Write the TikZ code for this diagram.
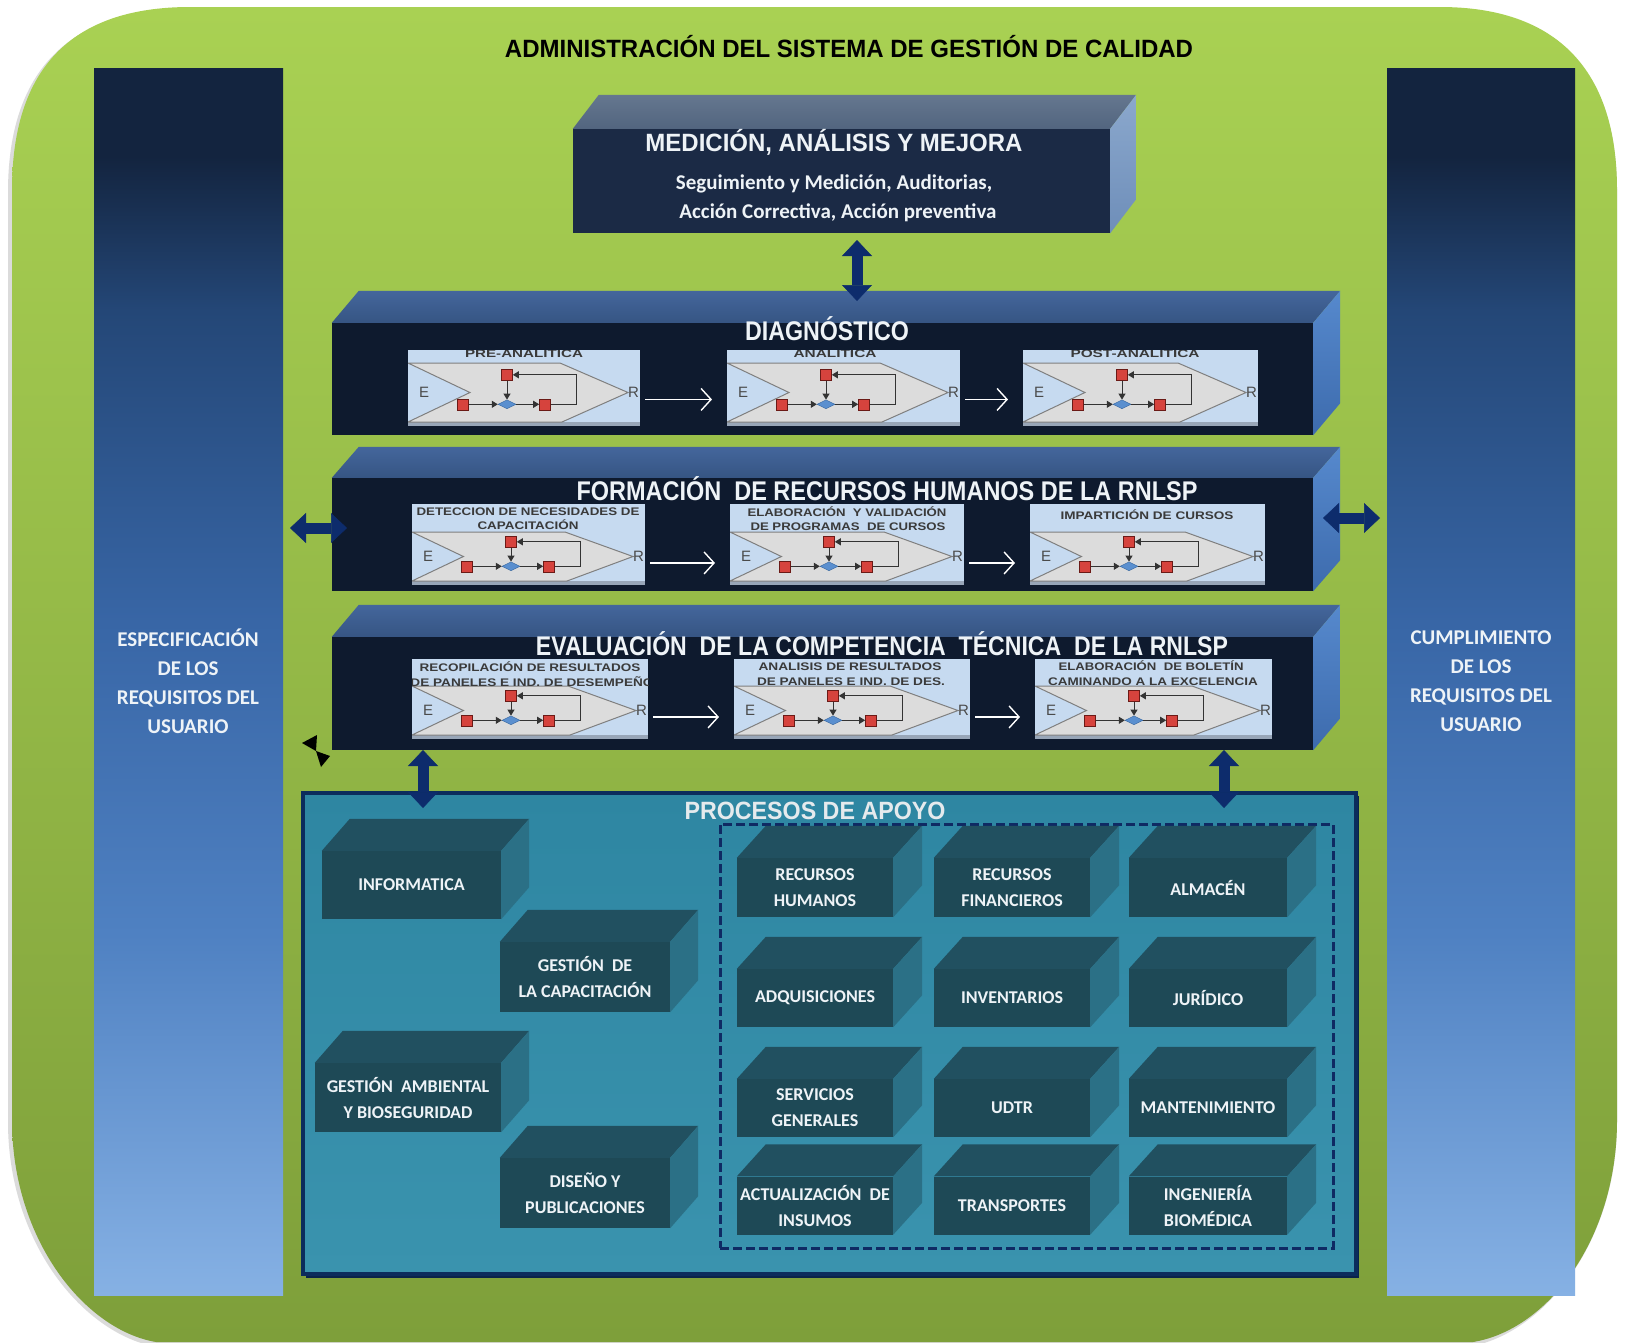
\documentclass[tikz,border=0pt]{standalone}
\usepackage{fontspec}
\usepackage{graphicx}
\setmainfont{Carlito}
\newfontfamily\arialf{Liberation Sans}
\usetikzlibrary{calc,arrows.meta,shapes.geometric}

\definecolor{grnT}{HTML}{A9D153}
\definecolor{grnM}{HTML}{98C148}
\definecolor{grnB}{HTML}{7E9F3A}
\definecolor{colA}{HTML}{13243F}
\definecolor{colB}{HTML}{244777}
\definecolor{colC}{HTML}{3866A6}
\definecolor{colD}{HTML}{4F81C2}
\definecolor{colE}{HTML}{86B1E4}
\definecolor{txtw}{HTML}{EEF3F7}
\definecolor{medF}{HTML}{1B2A45}
\definecolor{medT1}{HTML}{65778F}
\definecolor{medT2}{HTML}{52657F}
\definecolor{medS1}{HTML}{8BA8CD}
\definecolor{medS2}{HTML}{6E8EB9}
\definecolor{barF}{HTML}{0E1A2E}
\definecolor{barT1}{HTML}{44669C}
\definecolor{barT2}{HTML}{365583}
\definecolor{barS1}{HTML}{5689CD}
\definecolor{barS2}{HTML}{3D6BAD}
\definecolor{arrowblue}{HTML}{0D2C6C}
\definecolor{apoyoT}{HTML}{2E86A2}
\definecolor{apoyoB}{HTML}{3A93AE}
\definecolor{apoyoD}{HTML}{0B2C5C}
\definecolor{dashnavy}{HTML}{0F2A63}
\definecolor{cubeF}{HTML}{1E4956}
\definecolor{cubeT}{HTML}{215060}
\definecolor{cubeS}{HTML}{2B7086}
\definecolor{panelfill}{HTML}{C6DAF0}
\definecolor{panelshadow}{HTML}{98A6B8}
\definecolor{shapefill}{HTML}{DCDCDC}
\definecolor{shapedraw}{HTML}{7F7F7F}
\definecolor{sqfill}{HTML}{D6433D}
\definecolor{sqdraw}{HTML}{6B1A16}
\definecolor{diafill}{HTML}{5A8FCF}
\definecolor{diadraw}{HTML}{2F5F99}
\definecolor{flowgray}{HTML}{333333}
\definecolor{labgray}{HTML}{3A3A3A}
\definecolor{elabgray}{HTML}{4A4A4A}

\pgfdeclareverticalshading{colshade}{100bp}{color(0bp)=(colE); color(25bp)=(colE); color(39.7bp)=(colD); color(52.4bp)=(colC); color(65.1bp)=(colB); color(71.4bp)=(colA); color(75bp)=(colA); color(100bp)=(colA)}

\newcommand\fitw[2]{\resizebox{#1}{\height}{#2}}

\tikzset{
  medfront/.style={rectangle, inner sep=0pt, fill=medF},
  barfront/.style={rectangle, inner sep=0pt, fill=barF},
  cubefront/.style={rectangle, inner sep=0pt, fill=cubeF, align=center, text=txtw, font=\bfseries\fontsize{18}{26}\selectfont},
  panelbox/.style={rectangle, inner sep=0pt, fill=panelfill},
  sq/.style={rectangle, minimum size=11pt, inner sep=0pt, fill=sqfill, draw=sqdraw, line width=0.6pt},
  dia/.style={diamond, minimum width=18pt, minimum height=9pt, inner sep=0pt, fill=diafill, draw=diadraw, line width=0.4pt},
  flowl/.style={draw=flowgray, line width=1pt, -{Triangle[length=6pt,width=7pt]}},
  plab/.style={anchor=base, inner sep=0pt, text=labgray, font=\arialf\bfseries\fontsize{11}{11}\selectfont},
  elab/.style={inner sep=1pt, text=elabgray, font=\arialf\fontsize{15}{15}\selectfont},
  whitearr/.style={draw=white, line width=1.4pt, -{Straight Barb[length=10pt,width=22pt]}, shorten <=5pt, shorten >=15pt},
  bigarr/.style={draw=arrowblue, line width=11pt, {Triangle[length=16pt,width=30pt,line width=0.5pt]}-{Triangle[length=16pt,width=30pt,line width=0.5pt]}},
  bartitle/.style={anchor=base, inner sep=0pt, text=txtw},
  coltext/.style={align=center, inner sep=0pt, text=txtw, font=\bfseries\fontsize{21}{29}\selectfont},
}

% 3D box: name, center, width, height, depth, front style, top opts, side opts, text
\newcommand\threed[9]{%
  \node[#6, minimum width=#3, minimum height=#4] (#1) at #2 {#9};
  \path[#7] (#1.north west) -- ++#5 -- ($(#1.north east)+#5$) -- (#1.north east) -- cycle;
  \path[#8] (#1.north east) -- ++#5 -- ($(#1.south east)+#5$) -- (#1.south east) -- cycle;
}

% process panel: name, x1, y1, x2, y2, shape height, labels
\newcommand\procpanel[7]{%
  \node[panelbox, minimum width={#4-#2}, minimum height={#5-#3}] (#1) at ({(#2+#4)/2},{(#3+#5)/2}) {};
  \begin{scope}
    \clip (#2,#3) rectangle (#4,#5);
    \fill[panelshadow] (#2,#5-4) rectangle (#4,#5);
    \begin{scope}[shift={(#2,#5-4)}]
      \filldraw[fill=shapefill, draw=shapedraw, line width=1pt]
        (0,-#6) -- ({#4-#2-80},-#6) -- ({#4-#2-12},{-0.5*#6}) -- ({#4-#2-78},0) -- (0,0) -- ({1.05*#6},{-0.5*#6}) -- cycle;
      \node[elab] (#1e) at (16,{-0.5*#6}) {E};
      \node[elab, anchor=west] (#1r) at ({#4-#2-13},{-0.5*#6}) {R};
      \node[sq] (#1T) at (99,{-0.8*#6}) {};
      \node[sq] (#1L) at (55,{-0.3*#6}) {};
      \node[dia] (#1D) at (99,{-0.3*#6}) {};
      \node[sq] (#1S) at (137,{-0.3*#6}) {};
      \draw[flowl] (#1L) -- (#1D);
      \draw[flowl] (#1D) -- (#1S);
      \draw[flowl] (#1T) -- (#1D);
      \draw[flowl] (#1S.east) -- (168,{-0.3*#6}) |- (#1T.east);
    \end{scope}
    #7
  \end{scope}
  \coordinate (#1in) at (#2,{#5-0.45*#6});
  \coordinate (#1out) at (#4,{#5-0.45*#6});
}

\begin{document}
\begin{tikzpicture}[x=1pt,y=-1pt]
\useasboundingbox (0,0) rectangle (1627,1342);
\fill[white] (0,0) rectangle (1627,1342);

% outer green frame
\fill[black!14] (8,192) .. controls (8,72) and (68,9) .. (188,9) -- (1440,9) .. controls (1557,9) and (1617,72) .. (1617,192) -- (1617,1122) .. controls (1617,1240) and (1547,1330) .. (1473,1346) -- (152,1346) .. controls (80,1330) and (8,1240) .. (8,1122) -- cycle;
\path[top color=grnT, middle color=grnM, bottom color=grnB] (12,190) .. controls (12,70) and (70,7) .. (190,7) -- (1440,7) .. controls (1557,7) and (1617,70) .. (1617,190) -- (1617,1120) .. controls (1617,1240) and (1547,1330) .. (1473,1342) -- (156,1342) .. controls (85,1330) and (12,1240) .. (12,1120) -- cycle;

% title
\node[anchor=base, inner sep=0pt, text=black] (title) at (849,57) {\fitw{688pt}{\arialf\bfseries\fontsize{25}{25}\selectfont ADMINISTRACIÓN DEL SISTEMA DE GESTIÓN DE CALIDAD}};

% side columns
\path[shading=colshade] (94,68) rectangle (283,1295);
\path[shading=colshade] (1387,68) rectangle (1575,1295);
\node[coltext] (lefttxt) at (188,681) {ESPECIFICACIÓN\\DE LOS\\REQUISITOS DEL\\USUARIO};
\node[coltext] (righttxt) at (1481,681) {CUMPLIMIENTO\\DE LOS\\REQUISITOS DEL\\USUARIO};

% top box
\threed{med}{(841.5,181)}{537pt}{104pt}{(26,-34)}{medfront}{top color=medT1, bottom color=medT2}{top color=medS1, bottom color=medS2}{}
\node[bartitle] (medt) at (834,151) {\fitw{377pt}{\arialf\bfseries\fontsize{25}{25}\selectfont MEDICIÓN, ANÁLISIS Y MEJORA}};
\node[anchor=base, inner sep=0pt, text=txtw, font=\bfseries\fontsize{21}{21}\selectfont] (meds1) at (834,189) {Seguimiento y Medición, Auditorias,};
\node[anchor=base, inner sep=0pt, text=txtw, font=\bfseries\fontsize{21}{21}\selectfont] (meds2) at (838,218) {Acción Correctiva, Acción preventiva};

% three main bars
\threed{diag}{(822.5,379)}{981pt}{112pt}{(27,-32)}{barfront}{top color=barT1, bottom color=barT2}{top color=barS1, bottom color=barS2}{}
\threed{form}{(822.5,534.5)}{981pt}{113pt}{(27,-31)}{barfront}{top color=barT1, bottom color=barT2}{top color=barS1, bottom color=barS2}{}
\threed{eval}{(822.5,693.5)}{981pt}{113pt}{(27,-32)}{barfront}{top color=barT1, bottom color=barT2}{top color=barS1, bottom color=barS2}{}

% diagnostico panels
\procpanel{dA}{408}{350}{640}{426}{59}{\node[plab] (dAl) at (524,357) {\fitw{118pt}{PRE-ANALITICA}};}
\procpanel{dB}{727}{350}{960}{426}{59}{\node[plab] (dBl) at (835,357) {\fitw{83pt}{ANALITICA}};}
\procpanel{dC}{1023}{350}{1258}{426}{59}{\node[plab] (dCl) at (1135,357) {\fitw{129pt}{POST-ANALITICA}};}
\draw[whitearr] (dAout) -- (dBin);
\draw[whitearr] (dBout) -- (dCin);

% formacion panels
\procpanel{fA}{412}{504}{645}{585}{49}{\node[plab] (fAl1) at (528,515) {\fitw{223pt}{DETECCION DE NECESIDADES DE}};
  \node[plab] (fAl2) at (528,529) {\fitw{101pt}{CAPACITACIÓN}};}
\procpanel{fB}{730}{504}{964}{585}{49}{\node[plab] (fBl1) at (847,516) {\fitw{199pt}{ELABORACIÓN \ Y VALIDACIÓN}};
  \node[plab] (fBl2) at (848,530) {\fitw{195pt}{DE PROGRAMAS \ DE CURSOS}};}
\procpanel{fC}{1030}{504}{1265}{585}{49}{\node[plab] (fCl) at (1147,519) {\fitw{173pt}{IMPARTICIÓN DE CURSOS}};}
\draw[whitearr] (fAout) -- (fBin);
\draw[whitearr] (fBout) -- (fCin);

% evaluacion panels
\procpanel{eA}{412}{659}{648}{739}{49}{\node[plab] (eAl1) at (530,671) {\fitw{221pt}{RECOPILACIÓN DE RESULTADOS}};
  \node[plab] (eAl2) at (532,686) {\fitw{243pt}{DE PANELES E IND. DE DESEMPEÑO}};}
\procpanel{eB}{734}{659}{970}{739}{49}{\node[plab] (eBl1) at (850,670) {\fitw{183pt}{ANALISIS DE RESULTADOS}};
  \node[plab] (eBl2) at (851,685) {\fitw{188pt}{DE PANELES E IND. DE DES.}};}
\procpanel{eC}{1035}{659}{1272}{739}{49}{\node[plab] (eCl1) at (1151,670) {\fitw{185pt}{ELABORACIÓN \ DE BOLETÍN}};
  \node[plab] (eCl2) at (1153,685) {\fitw{210pt}{CAMINANDO A LA EXCELENCIA}};}
\draw[whitearr] (eAout) -- (eBin);
\draw[whitearr] (eBout) -- (eCin);

% bar titles
\node[bartitle] (diagt) at (827,340) {\fitw{164pt}{\arialf\bfseries\fontsize{27}{27}\selectfont DIAGNÓSTICO}};
\node[bartitle] (formt) at (887,500) {\fitw{621pt}{\arialf\bfseries\fontsize{27}{27}\selectfont FORMACIÓN \ DE RECURSOS HUMANOS DE LA RNLSP}};
\node[bartitle] (evalt) at (882,655) {\fitw{692pt}{\arialf\bfseries\fontsize{27}{27}\selectfont EVALUACIÓN \ DE LA COMPETENCIA \ TÉCNICA \ DE LA RNLSP}};

% small black mark
\fill[black] (302,743) -- (317,735) -- (316,751) -- cycle;
\fill[black] (316,751) -- (330,756) -- (321,767) -- cycle;

% procesos de apoyo
\fill[apoyoD!80!black] (306,796) rectangle (1359,1278);
\node[rectangle, inner sep=0pt, minimum width=1053pt, minimum height=481pt, top color=apoyoT, bottom color=apoyoB, draw=apoyoD, line width=4pt] (apoyo) at (829.5,1033.5) {};
\node[rectangle, inner sep=0pt, minimum width=613pt, minimum height=424pt, draw=dashnavy, line width=3pt, dash pattern=on 9pt off 4pt] (grp) at (1026.5,1036) {};
\node[anchor=base, inner sep=0pt, text=txtw!92!gray] (apoyot) at (815,819) {\fitw{261pt}{\arialf\bfseries\fontsize{25}{25}\selectfont PROCESOS DE APOYO}};

% left group cubes
\threed{inf}{(411.5,885)}{179pt}{68pt}{(28,-32)}{cubefront}{fill=cubeT}{fill=cubeS}{INFORMATICA}
\threed{gcap}{(585,977)}{170pt}{70pt}{(28,-32)}{cubefront}{fill=cubeT}{fill=cubeS}{GESTIÓN \ DE\\LA CAPACITACIÓN}
\threed{gamb}{(408,1097.5)}{186pt}{69pt}{(28,-32)}{cubefront}{fill=cubeT}{fill=cubeS}{GESTIÓN \ AMBIENTAL\\Y BIOSEGURIDAD}
\threed{dis}{(585,1193)}{170pt}{70pt}{(28,-32)}{cubefront}{fill=cubeT}{fill=cubeS}{DISEÑO Y\\PUBLICACIONES}

% right grid cubes
\threed{rh}{(815,887.5)}{156pt}{59pt}{(29,-32)}{cubefront}{fill=cubeT}{fill=cubeS}{RECURSOS\\HUMANOS}
\threed{rf}{(1012,887.5)}{156pt}{59pt}{(29,-32)}{cubefront}{fill=cubeT}{fill=cubeS}{RECURSOS\\FINANCIEROS}
\threed{alm}{(1208,887.5)}{158pt}{59pt}{(29,-32)}{cubefront}{fill=cubeT}{fill=cubeS}{ALMACÉN}
\threed{adq}{(815,998)}{156pt}{58pt}{(29,-32)}{cubefront}{fill=cubeT}{fill=cubeS}{ADQUISICIONES}
\threed{inv}{(1012,998)}{156pt}{58pt}{(29,-32)}{cubefront}{fill=cubeT}{fill=cubeS}{INVENTARIOS}
\threed{jur}{(1208,998)}{158pt}{58pt}{(29,-32)}{cubefront}{fill=cubeT}{fill=cubeS}{JURÍDICO}
\threed{serv}{(815,1108)}{156pt}{58pt}{(29,-32)}{cubefront}{fill=cubeT}{fill=cubeS}{SERVICIOS\\GENERALES}
\threed{udtr}{(1012,1108)}{156pt}{58pt}{(29,-32)}{cubefront}{fill=cubeT}{fill=cubeS}{UDTR}
\threed{mant}{(1208,1108)}{158pt}{58pt}{(29,-32)}{cubefront}{fill=cubeT}{fill=cubeS}{MANTENIMIENTO}
\threed{act}{(815,1205.5)}{156pt}{58pt}{(29,-32)}{cubefront}{fill=cubeT}{fill=cubeS}{ACTUALIZACIÓN \ DE\\INSUMOS}
\threed{trans}{(1012,1205.5)}{156pt}{58pt}{(29,-32)}{cubefront}{fill=cubeT}{fill=cubeS}{TRANSPORTES}
\threed{ing}{(1208,1205.5)}{158pt}{58pt}{(29,-32)}{cubefront}{fill=cubeT}{fill=cubeS}{INGENIERÍA\\BIOMÉDICA}

% big double arrows
\coordinate (a1s) at (857,240);
\coordinate (a1e) at (857,301);
\draw[bigarr] (a1s) -- (a1e);
\coordinate (a2s) at (290,528);
\coordinate (a2e) at (347,528);
\draw[bigarr] (a2s) -- (a2e);
\coordinate (a3s) at (1323,518);
\coordinate (a3e) at (1380,518);
\draw[bigarr] (a3s) -- (a3e);
\coordinate (a4s) at (423,750);
\coordinate (a4e) at (423,808);
\draw[bigarr] (a4s) -- (a4e);
\coordinate (a5s) at (1224,750);
\coordinate (a5e) at (1224,808);
\draw[bigarr] (a5s) -- (a5e);
\end{tikzpicture}
\end{document}
